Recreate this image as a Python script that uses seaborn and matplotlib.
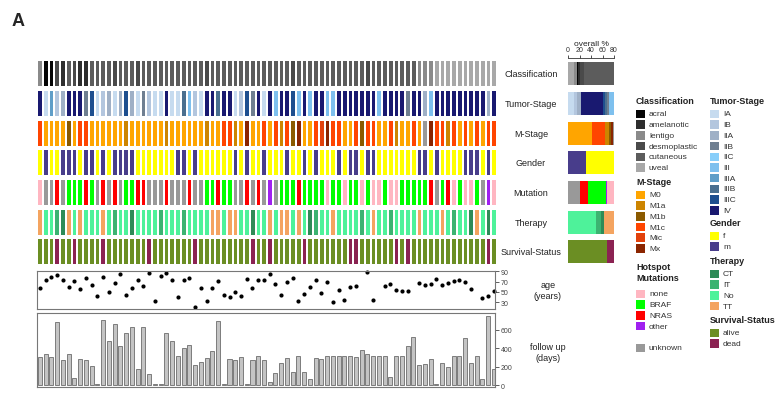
import numpy as np
import pandas as pd
import matplotlib
matplotlib.use('Agg')
import matplotlib.pyplot as plt
from matplotlib.colors import ListedColormap
from matplotlib.patches import Rectangle
import seaborn as sns

sns.set_style('white')
plt.rcParams['font.family'] = ['Liberation Sans', 'DejaVu Sans']

# ---- data (one entry per patient, 80 patients) ----
classification = (['lentigo', 'acral', 'acral', 'desmoplastic', 'amelanotic', 'cutaneous', 'desmoplastic',
                   'amelanotic', 'amelanotic', 'cutaneous']
                  + ['cutaneous'] * 3 + ['desmoplastic'] + ['cutaneous'] * 3 + ['desmoplastic'] + ['cutaneous'] * 11
                  + ['desmoplastic'] + ['cutaneous'] * 14 + ['desmoplastic'] + ['cutaneous'] * 12 + ['desmoplastic']
                  + ['cutaneous'] * 8 + ['lentigo'] * 3 + ['uveal'] * 11)

tumor_stage = ['IV', 'IA', 'IIIA', 'IB', 'IIA', 'IV', 'IV', 'IV', 'IIB', 'IIIC',
               'IA', 'IB', 'IIA', 'IA', 'IIA', 'IIIC', 'IIA', 'IA', 'IIB', 'IB',
               'IA', 'IA', 'IV', 'IA', 'IA', 'IIIB', 'III', 'IB', 'IA', 'IV',
               'IV', 'IIIB', 'IV', 'IV', 'IA', 'IB', 'IIIC', 'IIB', 'IV', 'IA',
               'IV', 'III', 'IV', 'IV', 'IIIC', 'III', 'IV', 'III', 'IV', 'IV',
               'III', 'III', 'IV', 'IV', 'IV', 'IV', 'IV', 'IV', 'IV', 'III',
               'IV', 'IV', 'IV', 'IV', 'IIB', 'IV', 'IV', 'IIA', 'III', 'IV',
               'IV', 'IV', 'IV', 'IV', 'IV', 'IV', 'IV', 'IV', 'IIA', 'IV']

m_stage = ['M1c', 'M0', 'M0', 'M0', 'M0', 'M1b', 'M0', 'M1c', 'M1c', 'M0',
           'M0', 'M0', 'M0', 'M0', 'M0', 'M1a', 'M0', 'M0', 'M0', 'M0',
           'M0', 'M0', 'M1a', 'M0', 'M0', 'M0', 'M0', 'M0', 'M0', 'M1a',
           'M0', 'M0', 'M1c', 'M1c', 'M1a', 'M0', 'Mx', 'M0', 'M0', 'M1c',
           'M0', 'M1c', 'M1a', 'M1c', 'M1b', 'Mx', 'M0', 'M0', 'M1c', 'Mic',
           'Mx', 'M1c', 'M1c', 'M0', 'M0', 'M1c', 'M1b', 'M1c', 'M1c', 'M0',
           'M0', 'M1c', 'M1a', 'M0', 'M0', 'M1c', 'M0', 'unknown', 'Mx', 'M1c',
           'M1c', 'M1a', 'M1c', 'M0', 'M1c', 'M0', 'M1c', 'M0', 'M1c', 'M1c']

gender = ['f', 'm', 'f', 'f', 'm', 'm', 'm', 'f', 'm', 'm',
          'f', 'm', 'f', 'm', 'm', 'm', 'm', 'f', 'f', 'f',
          'f', 'f', 'f', 'f', 'm', 'm', 'f', 'm', 'f', 'f',
          'f', 'f', 'f', 'f', 'm', 'f', 'm', 'f', 'f', 'm',
          'f', 'f', 'f', 'm', 'f', 'f', 'm', 'f', 'm', 'f',
          'f', 'f', 'm', 'f', 'm', 'm', 'f', 'm', 'm', 'f',
          'f', 'f', 'f', 'f', 'f', 'f', 'm', 'm', 'f', 'm',
          'f', 'f', 'f', 'f', 'm', 'm', 'm', 'f', 'm', 'f']

mutation = ['none', 'unknown', 'unknown', 'NRAS', 'unknown', 'BRAF', 'BRAF', 'BRAF', 'NRAS', 'BRAF',
            'unknown', 'NRAS', 'unknown', 'NRAS', 'unknown', 'BRAF', 'BRAF', 'NRAS', 'NRAS', 'unknown',
            'unknown', 'unknown', 'NRAS', 'unknown', 'unknown', 'unknown', 'NRAS', 'unknown', 'unknown', 'BRAF',
            'BRAF', 'NRAS', 'BRAF', 'BRAF', 'unknown', 'unknown', 'NRAS', 'unknown', 'NRAS', 'unknown',
            'other', 'unknown', 'BRAF', 'BRAF', 'BRAF', 'NRAS', 'BRAF', 'BRAF', 'BRAF', 'BRAF',
            'none', 'BRAF', 'BRAF', 'none', 'BRAF', 'BRAF', 'none', 'BRAF', 'none', 'none',
            'BRAF', 'none', 'none', 'BRAF', 'BRAF', 'BRAF', 'BRAF', 'BRAF', 'NRAS', 'unknown',
            'BRAF', 'NRAS', 'none', 'BRAF', 'none', 'none', 'BRAF', 'unknown', 'other', 'none']

therapy = ['TT', 'No', 'No', 'IT', 'CT', 'TT', 'No', 'TT', 'No', 'No',
           'No', 'TT', 'No', 'IT', 'No', 'No', 'CT', 'No', 'No', 'No',
           'No', 'IT', 'No', 'No', 'No', 'IT', 'No', 'No', 'No', 'No',
           'TT', 'TT', 'No', 'TT', 'TT', 'No', 'No', 'CT', 'No', 'No',
           'TT', 'No', 'TT', 'TT', 'No', 'TT', 'No', 'CT', 'IT', 'No',
           'No', 'TT', 'No', 'No', 'No', 'No', 'IT', 'No', 'TT', 'No',
           'No', 'IT', 'No', 'No', 'No', 'No', 'TT', 'No', 'No', 'No',
           'TT', 'No', 'IT', 'No', 'No', 'CT', 'TT', 'No', 'CT', 'No']

dead_patients = [4, 7, 12, 20, 28, 38, 41, 47, 55, 56, 63, 65, 79]
survival = ['dead' if i in dead_patients else 'alive' for i in range(1, 81)]

age = [57, 74, 79, 83, 74, 60, 72, 56, 77, 63, 42, 79, 49, 67, 84, 45, 57, 74, 61, 86,
       32, 81, 86, 73, 40, 73, 77, 21, 57, 32, 58, 72, 44, 41, 50, 42, 75, 57, 74, 74,
       84, 66, 44, 70, 76, 33, 46, 60, 74, 47, 70, 30, 54, 35, 59, 61, np.nan, 88, 34, np.nan,
       62, 65, 53, 51, 51, np.nan, 67, 64, 65, 75, 64, 67, 72, 73, 70, 56, np.nan, 38, 43, 51]

follow_up = [304, 336, 310, 684, 270, 338, 77, 280, 270, 212, 12, 704, 477, 666, 429, 565, 634, 175, 634, 123,
             12, 12, 568, 477, 311, 404, 432, 222, 254, 296, 371, 693, 12, 282, 277, 307, 12, 275, 311, 271,
             35, 130, 246, 293, 139, 311, 139, 64, 300, 289, 321, 321, 314, 314, 314, 307, 379, 343, 314, 314,
             314, 93, 314, 314, 428, 522, 216, 230, 280, 10, 240, 193, 314, 320, 513, 245, 311, 73, 746, 175]

# ---- colours per category ----
clas_cols = {'acral': '#050505', 'amelanotic': '#2e2e2e', 'lentigo': '#8a8a8a',
             'desmoplastic': '#4a4a4a', 'cutaneous': '#5c5c5c', 'uveal': '#a8a8a8'}
tumor_cols = {'IA': '#c6dbef', 'IB': '#b3c6de', 'IIA': '#9fb0c6', 'IIB': '#6f7f91', 'IIC': '#87cefa',
              'III': '#7ec0ee', 'IIIA': '#5f9ec8', 'IIIB': '#4a6f8f', 'IIIC': '#1e4f8f', 'IV': '#191970'}
mstage_cols = {'M0': '#ffa500', 'M1a': '#cd8500', 'M1b': '#8b5a00', 'M1c': '#ff4500',
               'Mic': '#e2410c', 'Mx': '#8b2500', 'unknown': '#999999'}
gender_cols = {'f': '#ffff00', 'm': '#483d8b'}
mut_cols = {'none': '#ffb6c1', 'BRAF': '#00ff00', 'NRAS': '#ff0000', 'other': '#a020f0', 'unknown': '#999999'}
therapy_cols = {'CT': '#2e8b57', 'IT': '#3cb371', 'No': '#4ef29a', 'TT': '#f4a460'}
surv_cols = {'alive': '#6b8e23', 'dead': '#8b2252'}

rows = [
    ('Classification', classification, clas_cols,
     ['uveal', 'lentigo', 'acral', 'amelanotic', 'desmoplastic', 'cutaneous']),
    ('Tumor-Stage', tumor_stage, tumor_cols,
     ['IA', 'IB', 'IIA', 'IV', 'IIIC', 'IIIB', 'IIB', 'IIIA', 'III', 'IIC']),
    ('M-Stage', m_stage, mstage_cols, ['M0', 'M1c', 'Mic', 'M1a', 'M1b', 'Mx', 'unknown']),
    ('Gender', gender, gender_cols, ['m', 'f']),
    ('Mutation', mutation, mut_cols, ['unknown', 'NRAS', 'BRAF', 'other', 'none']),
    ('Therapy', therapy, therapy_cols, ['No', 'IT', 'CT', 'TT']),
    ('Survival-Status', survival, surv_cols, ['alive', 'dead']),
]

W, H = 784, 406
fig = plt.figure(figsize=(W / 100, H / 100), dpi=100)


def px_axes(x0, y0, x1, y1):
    return fig.add_axes([x0 / W, 1 - y1 / H, (x1 - x0) / W, (y1 - y0) / H])


# overlay axes in pixel coordinates for labels and legend
ov = fig.add_axes([0, 0, 1, 1], zorder=-1)
ov.set_xlim(0, W)
ov.set_ylim(H, 0)
ov.axis('off')

hm_left, hm_right = 37, 497
row_tops = [61, 91, 121, 150, 180, 210, 239]
row_h = 27

for (name, values, cols, order), top in zip(rows, row_tops):
    cats = list(cols.keys())
    codes = np.array([[cats.index(v) for v in values]])
    ax = px_axes(hm_left, top, hm_right, top + row_h)
    sns.heatmap(codes, cmap=ListedColormap([cols[c] for c in cats]), vmin=-0.5, vmax=len(cats) - 0.5,
                cbar=False, linewidths=1.1, linecolor='white', xticklabels=False, yticklabels=False, ax=ax)
    ov.text(531, top + row_h / 2, name, ha='center', va='center', fontsize=6.5, color='#222')

    # overall counts
    counts = pd.Series(values).value_counts()
    bx = px_axes(568, top + 2, 614, top + row_h - 2)
    left = 0
    for c in order:
        n = counts.get(c, 0)
        if n:
            bx.barh(0, n, left=left, height=1, color=cols[c], linewidth=0)
            left += n
    bx.set_xlim(0, 80)
    bx.set_ylim(-0.5, 0.5)
    bx.axis('off')

# overall % axis (line with upward ticks above the first bar)
tax = px_axes(568, 59, 614, 62)
tax.set_xlim(0, 80)
for s in ['left', 'right', 'bottom']:
    tax.spines[s].set_visible(False)
tax.spines['top'].set_linewidth(0.6)
tax.spines['top'].set_color('#333')
tax.set_yticks([])
tax.set_xticks([0, 20, 40, 60, 80])
tax.xaxis.tick_top()
tax.tick_params(axis='x', direction='out', length=2.5, width=0.6, labelsize=5, pad=1, colors='#333')
tax.patch.set_alpha(0)
ov.text(591, 45, 'overall %', ha='center', va='center', fontsize=6, color='#222')

idx = np.arange(80)

# age panel
aax = px_axes(hm_left, 272, 495, 310)
sns.scatterplot(x=idx, y=age, color='black', s=9, linewidth=0, ax=aax, clip_on=False)
aax.set_xlim(-0.5, 79.2)
aax.set_ylim(17, 90.5)
aax.set_xticks([])
aax.set_yticks([30, 50, 70, 90])
aax.yaxis.tick_right()
aax.tick_params(axis='y', direction='out', length=3, width=0.6, labelsize=5, pad=1, colors='#444')
for s in aax.spines.values():
    s.set_color('#777')
    s.set_linewidth(0.8)
ov.text(548, 291, 'age\n(years)', ha='center', va='center', fontsize=6.5, color='#222', linespacing=1.2)

# follow up panel
fax = px_axes(hm_left, 314, 495, 388)
sns.barplot(x=idx, y=follow_up, color='#c4c4c4', edgecolor='#555555', linewidth=0.5,
            width=0.7, saturation=1, ax=fax)
fax.set_xlim(-0.5, 79.2)
fax.set_ylim(-18, 780)
fax.set_xticks([])
fax.set_yticks([0, 200, 400, 600])
fax.yaxis.tick_right()
fax.tick_params(axis='y', direction='out', length=3, width=0.6, labelsize=5, pad=1, colors='#444')
fax.set_xlabel('')
fax.set_ylabel('')
for s in fax.spines.values():
    s.set_color('#777')
    s.set_linewidth(0.8)
ov.text(548, 353, 'follow up\n(days)', ha='center', va='center', fontsize=6.5, color='#222', linespacing=1.2)

ov.text(12, 22, 'A', ha='left', va='center', fontsize=13, fontweight='bold')

# legend
def legend_block(x, y, title, cols, keys, step=10.7):
    ov.text(x, y, title, ha='left', va='center', fontsize=6.5, fontweight='bold', color='#222',
            linespacing=1.3)
    nlines = title.count('\n')
    yy = y + 13 + nlines * 9
    for k in keys:
        ov.add_patch(Rectangle((x, yy - 4.3), 9, 8.6, color=cols[k], linewidth=0))
        ov.text(x + 13, yy, k, ha='left', va='center', fontsize=6, color='#333')
        yy += step


legend_block(636, 102, 'Classification', clas_cols, list(clas_cols))
legend_block(636, 183, 'M-Stage', mstage_cols, ['M0', 'M1a', 'M1b', 'M1c', 'Mic', 'Mx'])
legend_block(636, 273, 'Hotspot\nMutations', mut_cols, ['none', 'BRAF', 'NRAS', 'other'])
legend_block(636, 336, '', mut_cols, ['unknown'])
legend_block(710, 102, 'Tumor-Stage', tumor_cols, list(tumor_cols))
legend_block(710, 224, 'Gender', gender_cols, ['f', 'm'])
legend_block(710, 262, 'Therapy', therapy_cols, ['CT', 'IT', 'No', 'TT'])
legend_block(710, 321, 'Survival-Status', surv_cols, ['alive', 'dead'])

fig.savefig('out.png', dpi=100)
